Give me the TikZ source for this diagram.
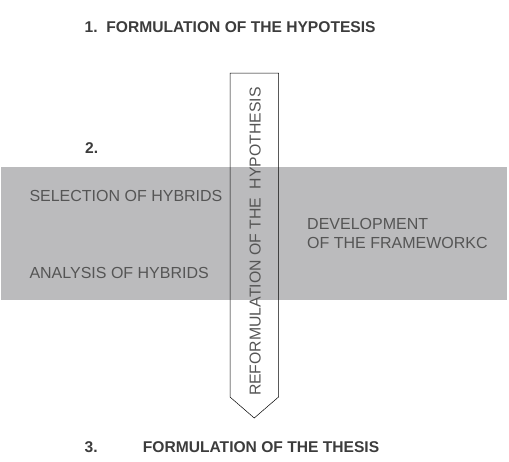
\documentclass[tikz,border=0pt]{standalone}
\usepackage{fontspec}
\setmainfont{Liberation Sans}
\definecolor{bandgray}{HTML}{BBBBBD}
\definecolor{txtgray}{HTML}{555555}
\definecolor{boldgray}{HTML}{3C3C3C}
\begin{document}
\begin{tikzpicture}[x=1pt,y=-1pt,
  lbl/.style={inner sep=0pt,anchor=west,text=txtgray,font=\fontsize{16}{18}\selectfont},
  ttl/.style={inner sep=0pt,anchor=west,text=boldgray,font=\fontsize{15.6}{18}\selectfont\bfseries},
  arrowshape/.style={draw=black,line width=0.5pt,line join=miter}]
\useasboundingbox (0,0) rectangle (509,461);
\fill[bandgray] (1,167) rectangle (507,300);
% vertical arrow
\coordinate (tl) at (230,73);
\coordinate (tr) at (278.5,73);
\coordinate (br) at (278.5,397);
\coordinate (tip) at (254.25,418);
\coordinate (bl) at (230,397);
\draw[arrowshape] (tl) -- (tr) -- (br) -- (tip) -- (bl) -- cycle;
\node[inner sep=0pt,rotate=90,text=txtgray,font=\fontsize{15.8}{18}\selectfont] (ref) at (255.3,241.6) {REFORMULATION OF THE\ \ HYPOTHESIS};
% titles
\node[ttl] (t1) at (84.5,27.2) {1.\ \ FORMULATION OF THE HYPOTESIS};
\node[ttl] (t2) at (85,147.8) {2.};
\node[ttl] (t3n) at (84.5,447) {3.};
\node[ttl] (t3) at (142.7,447) {FORMULATION OF THE THESIS};
% labels
\node[lbl] (sel) at (29.3,195.5) {SELECTION OF HYBRIDS};
\node[lbl] (ana) at (29.3,273) {ANALYSIS OF HYBRIDS};
\node[lbl] (dev1) at (307,223.5) {DEVELOPMENT};
\node[lbl] (dev2) at (307,242.5) {OF THE FRAMEWORKC};
\end{tikzpicture}
\end{document}
